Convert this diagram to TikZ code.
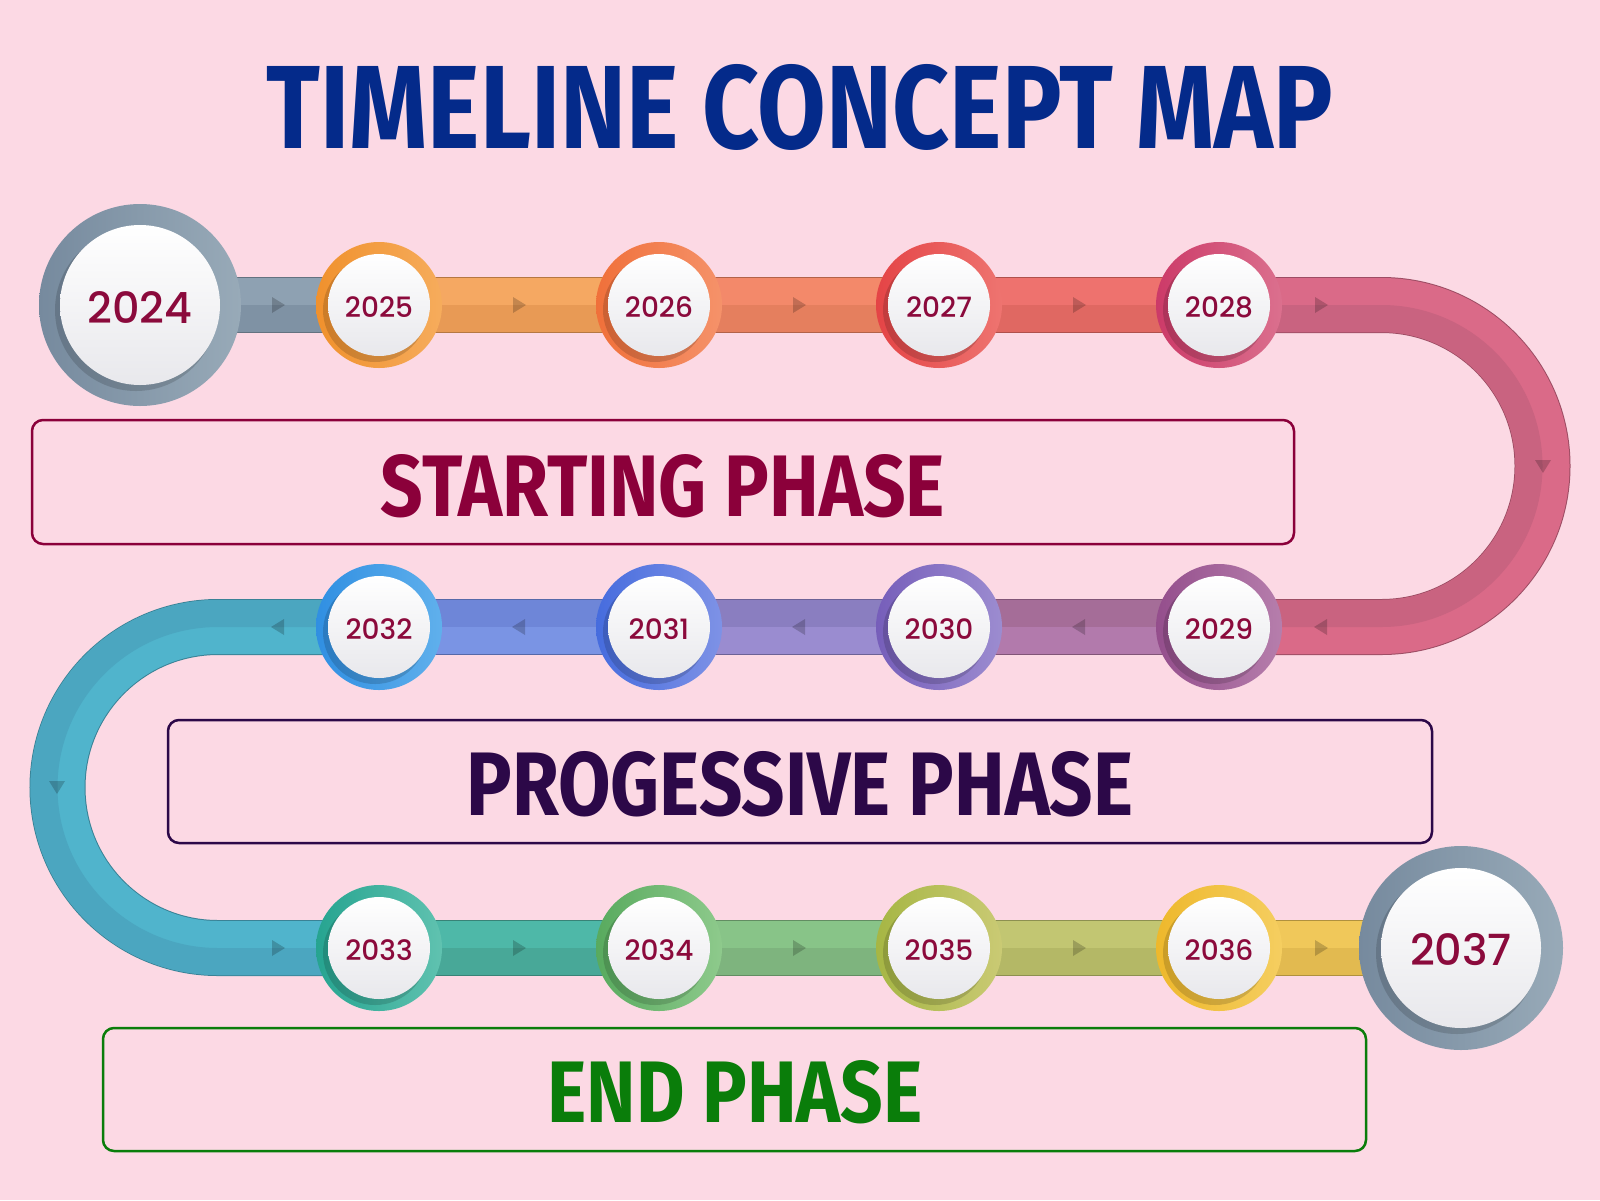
\documentclass[tikz,border=0pt]{standalone}
\usepackage{fontspec}
\usepackage{graphicx}
\usetikzlibrary{calc}
\newfontfamily\yearfont{Poppins}[UprightFont={* Medium}]
\newfontfamily\headfont{Fira Sans}
\definecolor{bg}{RGB}{252,217,228}
\definecolor{titleblue}{RGB}{4,42,138}
\definecolor{startc}{RGB}{139,0,58}
\definecolor{progc}{RGB}{44,8,72}
\definecolor{endc}{RGB}{10,125,10}
\definecolor{yeartxt}{RGB}{139,10,60}
\definecolor{discgray}{RGB}{232,232,236}
% track colours (light / dark)
\definecolor{sAL}{RGB}{142,161,178}\definecolor{sAD}{RGB}{127,146,164}
\definecolor{sBL}{RGB}{245,168,98}\definecolor{sBD}{RGB}{232,154,85}
\definecolor{sCL}{RGB}{243,137,106}\definecolor{sCD}{RGB}{229,127,94}
\definecolor{sDL}{RGB}{238,114,110}\definecolor{sDD}{RGB}{224,104,98}
\definecolor{sEL}{RGB}{218,106,136}\definecolor{sED}{RGB}{201,99,128}
\definecolor{sFL}{RGB}{178,122,172}\definecolor{sFD}{RGB}{165,109,152}
\definecolor{sGL}{RGB}{154,140,208}\definecolor{sGD}{RGB}{138,126,192}
\definecolor{sHL}{RGB}{122,148,228}\definecolor{sHD}{RGB}{110,134,216}
\definecolor{sIL}{RGB}{80,180,204}\definecolor{sID}{RGB}{75,166,192}
\definecolor{sJL}{RGB}{78,184,168}\definecolor{sJD}{RGB}{72,168,152}
\definecolor{sKL}{RGB}{136,196,136}\definecolor{sKD}{RGB}{126,180,126}
\definecolor{sLL}{RGB}{194,198,114}\definecolor{sLD}{RGB}{180,184,102}
\definecolor{sML}{RGB}{240,200,90}\definecolor{sMD}{RGB}{226,186,80}
% ring colours (dark / light)
\definecolor{rgD}{RGB}{118,138,158}\definecolor{rgL}{RGB}{152,170,184}
\definecolor{r25D}{RGB}{240,145,45}\definecolor{r25L}{RGB}{246,172,92}
\definecolor{r26D}{RGB}{240,112,58}\definecolor{r26L}{RGB}{245,146,106}
\definecolor{r27D}{RGB}{228,68,70}\definecolor{r27L}{RGB}{238,116,112}
\definecolor{r28D}{RGB}{204,58,104}\definecolor{r28L}{RGB}{219,112,142}
\definecolor{r29D}{RGB}{148,78,140}\definecolor{r29L}{RGB}{182,126,172}
\definecolor{r30D}{RGB}{118,94,186}\definecolor{r30L}{RGB}{156,140,208}
\definecolor{r31D}{RGB}{70,108,222}\definecolor{r31L}{RGB}{126,146,230}
\definecolor{r32D}{RGB}{48,143,226}\definecolor{r32L}{RGB}{96,176,236}
\definecolor{r33D}{RGB}{38,164,144}\definecolor{r33L}{RGB}{96,194,176}
\definecolor{r34D}{RGB}{88,170,94}\definecolor{r34L}{RGB}{142,202,140}
\definecolor{r35D}{RGB}{166,182,68}\definecolor{r35L}{RGB}{202,202,116}
\definecolor{r36D}{RGB}{238,184,44}\definecolor{r36L}{RGB}{245,206,96}
\tikzset{
  year/.style={text=yeartxt, inner sep=0pt, yshift=-2pt, font=\yearfont\fontsize{28}{30}\selectfont},
  bigyear/.style={text=yeartxt, inner sep=0pt, yshift=-2pt, font=\yearfont\fontsize{43}{45}\selectfont},
  phasebox/.style={line width=2.5pt, rounded corners=11pt, inner sep=0pt},
  tip/.style={fill=black, opacity=0.2},
}
\newcommand\trackseg[5]{%
  \draw[line width=56pt,#4!78!black] (#1) -- (#2);
  \draw[line width=54pt,#3] (#1) -- (#2);
  \draw[line width=27pt,#4] ($(#1)+(0,#5)$) -- ($(#2)+(0,#5)$);}
\newcommand\ring[5]{%
  \shade[left color=#4, right color=#5] (#1) circle[radius=#2];
  \fill[black, opacity=0.15] ($(#1)+(-4,5)$) circle[radius=#3+1];
  \shade[top color=white, bottom color=discgray] (#1) circle[radius=#3];}
\newcommand\tri[3]{%
  \fill[tip, shift={(#1,#2)}, rotate=#3] (-6,-8) -- (7,0) -- (-6,8) -- cycle;}
\begin{document}
\begin{tikzpicture}[x=1pt,y=-1pt]
\useasboundingbox (0,0) rectangle (1600,1200);
\fill[bg] (0,0) rectangle (1600,1200);
% centres
\coordinate (c2024) at (140,305);
\coordinate (c2025) at (379,305);
\coordinate (c2026) at (659,305);
\coordinate (c2027) at (939,305);
\coordinate (c2028) at (1219,305);
\coordinate (c2029) at (1219,627);
\coordinate (c2030) at (939,627);
\coordinate (c2031) at (659,627);
\coordinate (c2032) at (379,627);
\coordinate (c2033) at (379,948);
\coordinate (c2034) at (659,948);
\coordinate (c2035) at (939,948);
\coordinate (c2036) at (1219,948);
\coordinate (c2037) at (1461,948);
\coordinate (rt) at (1381.5,305);
\coordinate (rb) at (1381.5,627);
\coordinate (lt) at (218,627);
\coordinate (lb) at (218,948);
% track
\trackseg{c2024}{c2025}{sAL}{sAD}{13.5}
\trackseg{c2025}{c2026}{sBL}{sBD}{13.5}
\trackseg{c2026}{c2027}{sCL}{sCD}{13.5}
\trackseg{c2027}{c2028}{sDL}{sDD}{13.5}
\draw[line width=56pt,sED!78!black] (c2028) -- (rt) arc[start angle=-90,end angle=90,radius=161] -- (c2029);
\draw[line width=54pt,sEL] (c2028) -- (rt) arc[start angle=-90,end angle=90,radius=161] -- (c2029);
\draw[line width=27pt,sED] ($(c2028)+(0,13.5)$) -- ($(rt)+(0,13.5)$) arc[start angle=-90,end angle=90,radius=147.5] -- ($(c2029)+(0,-13.5)$);
\trackseg{c2029}{c2030}{sFL}{sFD}{-13.5}
\trackseg{c2030}{c2031}{sGL}{sGD}{-13.5}
\trackseg{c2031}{c2032}{sHL}{sHD}{-13.5}
\draw[line width=56pt,sID!78!black] (c2032) -- (lt) arc[start angle=-90,end angle=-270,radius=160.5] -- (c2033);
\draw[line width=54pt,sIL] (c2032) -- (lt) arc[start angle=-90,end angle=-270,radius=160.5] -- (c2033);
\draw[line width=27pt,sID] ($(c2032)+(0,-13.5)$) -- ($(lt)+(0,-13.5)$) arc[start angle=-90,end angle=-270,radius=174] -- ($(c2033)+(0,13.5)$);
\trackseg{c2033}{c2034}{sJL}{sJD}{13.5}
\trackseg{c2034}{c2035}{sKL}{sKD}{13.5}
\trackseg{c2035}{c2036}{sLL}{sLD}{13.5}
\trackseg{c2036}{c2037}{sML}{sMD}{13.5}
% direction marks
\tri{278}{305}{0}\tri{519}{305}{0}\tri{799}{305}{0}\tri{1079}{305}{0}\tri{1321}{305}{0}
\tri{1543}{466}{-90}
\tri{1321}{627}{180}\tri{1079}{627}{180}\tri{799}{627}{180}\tri{519}{627}{180}\tri{278}{627}{180}
\tri{57}{787}{-90}
\tri{278}{948}{0}\tri{519}{948}{0}\tri{799}{948}{0}\tri{1079}{948}{0}\tri{1321}{948}{0}
% circles
\ring{c2024}{101}{80}{rgD}{rgL}
\ring{c2025}{63}{51}{r25D}{r25L}
\ring{c2026}{63}{51}{r26D}{r26L}
\ring{c2027}{63}{51}{r27D}{r27L}
\ring{c2028}{63}{51}{r28D}{r28L}
\ring{c2029}{63}{51}{r29D}{r29L}
\ring{c2030}{63}{51}{r30D}{r30L}
\ring{c2031}{63}{51}{r31D}{r31L}
\ring{c2032}{63}{51}{r32D}{r32L}
\ring{c2033}{63}{51}{r33D}{r33L}
\ring{c2034}{63}{51}{r34D}{r34L}
\ring{c2035}{63}{51}{r35D}{r35L}
\ring{c2036}{63}{51}{r36D}{r36L}
\ring{c2037}{102}{80}{rgD}{rgL}
\node[bigyear] (n2024) at (c2024) {2024};
\node[year] (n2025) at (c2025) {2025};
\node[year] (n2026) at (c2026) {2026};
\node[year] (n2027) at (c2027) {2027};
\node[year] (n2028) at (c2028) {2028};
\node[year] (n2029) at (c2029) {2029};
\node[year] (n2030) at (c2030) {2030};
\node[year] (n2031) at (c2031) {2031};
\node[year] (n2032) at (c2032) {2032};
\node[year] (n2033) at (c2033) {2033};
\node[year] (n2034) at (c2034) {2034};
\node[year] (n2035) at (c2035) {2035};
\node[year] (n2036) at (c2036) {2036};
\node[bigyear] (n2037) at (c2037) {2037};
% title
\node[text=titleblue, inner sep=0pt] (title) at (800,107) {\resizebox{1066pt}{84pt}{\headfont\bfseries TIMELINE CONCEPT MAP}};
% phase boxes
\node[phasebox, draw=startc, minimum width=1262pt, minimum height=124pt] (startbox) at (663,482) {};
\node[text=startc, inner sep=0pt] (starttext) at (663,486) {\resizebox{564pt}{62pt}{\headfont\bfseries STARTING PHASE}};
\node[phasebox, draw=progc, minimum width=1264pt, minimum height=123pt] (progbox) at (800,781.5) {};
\node[text=progc, inner sep=0pt] (progtext) at (800,784) {\resizebox{667pt}{64pt}{\headfont\bfseries PROGESSIVE PHASE}};
\node[phasebox, draw=endc, minimum width=1263pt, minimum height=123pt] (endbox) at (734.5,1089.5) {};
\node[text=endc, inner sep=0pt] (endtext) at (735,1092) {\resizebox{375pt}{62pt}{\headfont\bfseries END PHASE}};
\end{tikzpicture}
\end{document}
